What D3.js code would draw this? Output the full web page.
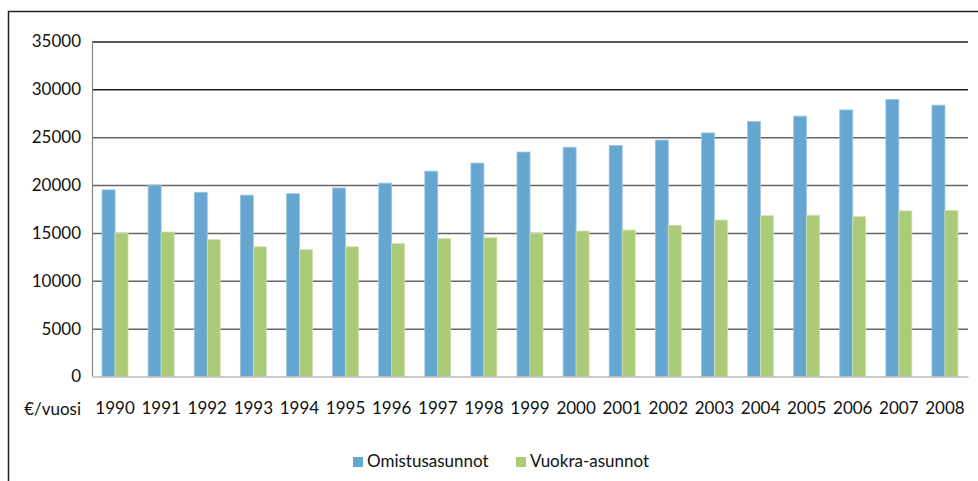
<!DOCTYPE html>
<html>
<head>
<meta charset="utf-8">
<script src="https://cdn.jsdelivr.net/npm/d3@7"></script>
<style>
  body { margin: 0; background: #fff; }
  svg text { font-family: Lato, "Open Sans", sans-serif; fill: #111; }
</style>
</head>
<body>
<div id="chart"></div>
<script>
// Data
const years = ["1990", "1991", "1992", "1993", "1994", "1995", "1996", "1997", "1998", "1999",
    "2000", "2001", "2002", "2003", "2004", "2005", "2006", "2007", "2008"];
const omistus = [19500, 20000, 19250, 18950, 19100, 19700, 20200, 21450, 22300, 23450,
    23950, 24150, 24700, 25450, 26650, 27200, 27850, 28950, 28350];
const vuokra = [15000, 15100, 14300, 13550, 13250, 13550, 13900, 14400, 14500, 14950,
    15200, 15300, 15800, 16350, 16800, 16850, 16700, 17300, 17350];
const seriesNames = ["Omistusasunnot", "Vuokra-asunnot"];
const colors = ["#66a7d1", "#abcb78"];
const yTicks = [0, 5000, 10000, 15000, 20000, 25000, 30000, 35000];

const width = 978;
const height = 481;
const margin = { top: 41.5, right: 10, bottom: 104.5, left: 92 };

const svg = d3.select("#chart")
    .append("svg")
    .attr("width", width)
    .attr("height", height);

// outer frame (left + top edges visible)
svg.append("path")
    .attr("d", `M8.5,${height} V11.5 H${width}`)
    .attr("fill", "none")
    .attr("stroke", "#222")
    .attr("stroke-width", 1.5);

const x = d3.scaleBand()
    .domain(years)
    .range([margin.left, width - margin.right])
    .padding(0);

const xInner = d3.scaleBand()
    .domain(seriesNames)
    .range([0, 26]);

const y = d3.scaleLinear()
    .domain([0, 35000])
    .range([height - margin.bottom, margin.top]);

// gridlines + y labels
const yAxis = svg.append("g")
    .attr("transform", `translate(${margin.left}, 0)`)
    .call(d3.axisLeft(y).tickValues(yTicks).tickFormat(d3.format("d"))
        .tickSize(-(width - margin.right - margin.left)).tickPadding(11));
yAxis.select(".domain").remove();
yAxis.selectAll(".tick line")
    .attr("stroke", (d) => d >= 30000 ? "#222" : "#666")
    .attr("stroke-width", 1.5)
    .attr("display", (d) => d === 0 ? "none" : null);
yAxis.selectAll(".tick text")
    .style("font-size", "17px")
    .attr("fill", "#111");

// bars
const groups = svg.append("g")
    .selectAll("g")
    .data(years)
    .enter()
    .append("g")
    .attr("transform", d => `translate(${x(d) + (x.bandwidth() - 26) / 2}, 0)`);

groups.selectAll("rect")
    .data((d, i) => [omistus[i], vuokra[i]].map((v, k) => ({ key: seriesNames[k], value: v, k })))
    .enter()
    .append("rect")
    .attr("x", d => xInner(d.key))
    .attr("y", d => y(d.value))
    .attr("width", xInner.bandwidth())
    .attr("height", d => y(0) - y(d.value))
    .attr("fill", d => colors[d.k])
    .attr("stroke", d => d.k === 0 ? "#9cc6e2" : "#cfe2b0")
    .attr("stroke-width", 0.8);

// left axis line
svg.append("line")
    .attr("x1", margin.left + 0.5).attr("x2", margin.left + 0.5)
    .attr("y1", margin.top).attr("y2", y(0))
    .attr("stroke", "#888")
    .attr("stroke-width", 1.2);

// x axis
const xAxis = svg.append("g")
    .attr("transform", `translate(0, ${y(0)})`)
    .call(d3.axisBottom(x).tickSize(0).tickPadding(25));
xAxis.select(".domain")
    .attr("stroke", "#bbb")
    .attr("stroke-width", 1.5);
xAxis.selectAll(".tick text")
    .style("font-size", "17px")
    .attr("fill", "#111");

svg.append("text")
    .attr("x", 81)
    .attr("y", 415)
    .attr("text-anchor", "end")
    .style("font-size", "17px")
    .text("€/vuosi");

// legend
const legendX = [353, 516];
const legend = svg.append("g")
    .selectAll("g")
    .data(seriesNames)
    .enter()
    .append("g")
    .attr("transform", (d, i) => `translate(${legendX[i]}, 457)`);

legend.append("rect")
    .attr("width", 10)
    .attr("height", 10)
    .attr("fill", (d, i) => colors[i]);

legend.append("text")
    .attr("x", 14)
    .attr("y", 10)
    .style("font-size", "17px")
    .text(d => d);
</script>
</body>
</html>
